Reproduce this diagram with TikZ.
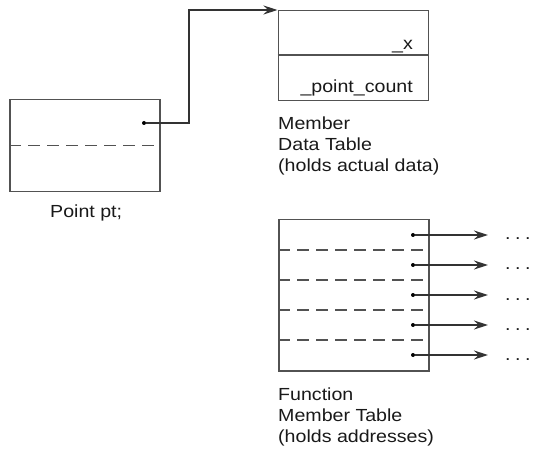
\documentclass[tikz,border=0pt]{standalone}
\usepackage{fontspec}
\setmainfont{Liberation Sans}[FakeStretch=1.12]
\usetikzlibrary{arrows.meta}
\definecolor{ink}{gray}{0.32}
\begin{document}
\begin{tikzpicture}[x=1bp,y=-1bp,
  line/.style={draw=ink,line width=1.5bp},
  boxshape/.style={line,rectangle,inner sep=0pt,anchor=north west},
  dashline/.style={draw=ink,line width=1.5bp,dash pattern=on 12bp off 7bp},
  ptrdot/.style={circle,fill=black,inner sep=0pt,minimum size=4bp},
  ptrarrow/.style={draw=black!80,line width=1.3bp,-{Stealth[length=14bp,width=9bp]}},
  lbl/.style={inner sep=0pt,font=\fontsize{17.5bp}{21bp}\selectfont,text=black!90}]
\useasboundingbox (0,0) rectangle (550,459);
% Point pt object
\node[boxshape,minimum width=150bp,minimum height=92bp] (pt) at (9,99) {};
\draw[dashline] (pt.west) -- (pt.east);
\node[ptrdot] (ptr) at (144,123) {};
\coordinate (bend) at (189,123);
\node[lbl,anchor=base west] (ptlabel) at (50,217.5) {Point pt;};
% Member data table
\node[boxshape,minimum width=150bp,minimum height=90bp] (data) at (277.5,10) {};
\coordinate (divl) at (277.5,55);
\coordinate (divr) at (427.5,55);
\draw[line] (divl) -- (divr);
\node[lbl,anchor=base east] (xfield) at (413,50) {\_x};
\node[lbl,anchor=base east] (countfield) at (413,93) {\_point\_count};
\draw[ptrarrow] (ptr) -- (bend) |- (data.north west);
\node[lbl,anchor=base west] (m1) at (278,130) {Member};
\node[lbl,anchor=base west] (m2) at (278,151) {Data Table};
\node[lbl,anchor=base west] (m3) at (278,172) {(holds actual data)};
% Function member table
\node[boxshape,minimum width=150bp,minimum height=151bp] (func) at (278,219) {};
\foreach \y in {250,280,310,340}{
  \draw[dashline] (278,\y) -- (428,\y);
}
\foreach \i/\y in {1/235,2/265,3/295,4/325,5/355}{
  \node[ptrdot] (fp\i) at (413,\y) {};
  \coordinate (ft\i) at (488,\y);
  \draw[ptrarrow] (fp\i) -- (ft\i);
  \node[lbl,anchor=base west] (el\i) at (505,\y+5) {.\hspace{4.5bp}.\hspace{4.5bp}.};
}
\node[lbl,anchor=base west] (f1) at (278,400) {Function};
\node[lbl,anchor=base west] (f2) at (278,421) {Member Table};
\node[lbl,anchor=base west] (f3) at (278,442) {(holds addresses)};
\end{tikzpicture}
\end{document}
